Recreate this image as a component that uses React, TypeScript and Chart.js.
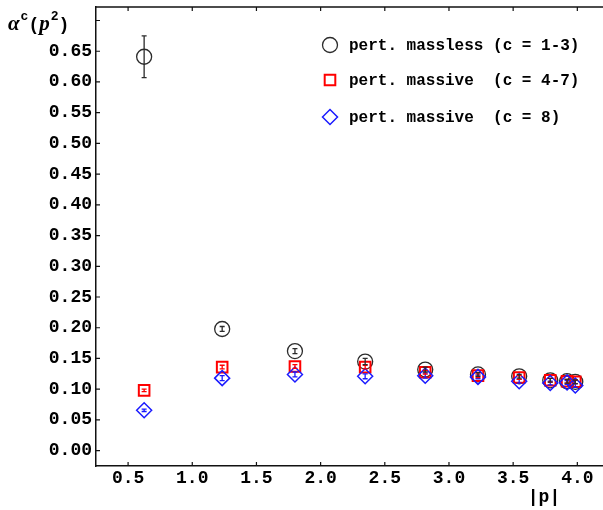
import React, { useEffect, useRef } from 'react';
import { Chart, registerables } from 'chart.js';
import { drawPoint } from 'chart.js/helpers';

Chart.register(...registerables);

// |p| values (lattice momenta)
const momenta = [0.625, 1.233, 1.8, 2.347, 2.815, 3.226, 3.547, 3.789, 3.92, 3.984];

// pert. massless (c = 1-3)
const masslessValues = [0.641, 0.198, 0.162, 0.145, 0.132, 0.124, 0.121, 0.1145, 0.113, 0.112];
const masslessErrors = [0.034, 0.004, 0.004, 0.005, 0.004, 0.003, 0.003, 0.003, 0.003, 0.003];

// pert. massive (c = 4-7)
const massive47Values = [0.098, 0.136, 0.137, 0.136, 0.1275, 0.122, 0.119, 0.1145, 0.113, 0.112];
const massive47Errors = [0.002, 0.003, 0.003, 0.003, 0.003, 0.003, 0.003, 0.003, 0.003, 0.003];

// pert. massive (c = 8)
const massive8Values = [0.0657, 0.118, 0.124, 0.121, 0.122, 0.12, 0.113, 0.11, 0.111, 0.106];
const massive8Errors = [0.002, 0.004, 0.004, 0.004, 0.004, 0.003, 0.003, 0.003, 0.003, 0.003];

const xTicks = [0.5, 1.0, 1.5, 2.0, 2.5, 3.0, 3.5, 4.0];
const yTicks = [0.0, 0.05, 0.1, 0.15, 0.2, 0.25, 0.3, 0.35, 0.4, 0.45, 0.5, 0.55, 0.6, 0.65, 0.7];
const yLabelMax = 0.65;

const legendLabels = [
  'pert. massless (c = 1-3)',
  'pert. massive  (c = 4-7)',
  'pert. massive  (c = 8)',
];

const MONO = "'Liberation Mono', 'Courier New', monospace";
const SERIF = "'Liberation Serif', 'DejaVu Serif', serif";

export default function App() {
  const ref = useRef<HTMLCanvasElement>(null);

  useEffect(() => {
    const canvas = ref.current!;
    const series = [
      { label: legendLabels[0], values: masslessValues, errors: masslessErrors, color: '#2b2b2b', style: 'circle', width: 1.3, order: 3 },
      { label: legendLabels[1], values: massive47Values, errors: massive47Errors, color: '#ff0000', style: 'rect', width: 2, order: 2 },
      { label: legendLabels[2], values: massive8Values, errors: massive8Errors, color: '#1a1aff', style: 'rectRot', width: 1.5, order: 1 },
    ];
    const RADIUS = 7.5;

    const errorBars = {
      id: 'errorBars',
      afterDatasetsDraw(chart: any) {
        const ctx = chart.ctx;
        const xs = chart.scales.x;
        const ys = chart.scales.y;
        ctx.save();
        [2, 1, 0].forEach((si) => {
          const s = series[si];
          ctx.strokeStyle = s.color;
          ctx.lineWidth = 1.3;
          momenta.forEach((m, i) => {
            const px = xs.getPixelForValue(m);
            const top = ys.getPixelForValue(s.values[i] + s.errors[i]);
            const bot = ys.getPixelForValue(s.values[i] - s.errors[i]);
            ctx.beginPath();
            ctx.moveTo(px, top);
            ctx.lineTo(px, bot);
            ctx.moveTo(px - 2.5, top);
            ctx.lineTo(px + 2.5, top);
            ctx.moveTo(px - 2.5, bot);
            ctx.lineTo(px + 2.5, bot);
            ctx.stroke();
          });
        });
        ctx.restore();
      },
    };

    const frame = {
      id: 'frame',
      afterDraw(chart: any) {
        const ctx = chart.ctx;
        const { left, right, top, bottom } = chart.chartArea;
        const xs = chart.scales.x;
        const ys = chart.scales.y;
        ctx.save();
        ctx.strokeStyle = '#111';
        ctx.lineWidth = 1.5;
        // top frame line
        ctx.beginPath();
        ctx.moveTo(left, top);
        ctx.lineTo(right, top);
        ctx.stroke();
        // inward ticks
        ctx.lineWidth = 1.2;
        ctx.beginPath();
        xTicks.forEach((t) => {
          const px = xs.getPixelForValue(t);
          ctx.moveTo(px, bottom);
          ctx.lineTo(px, bottom - 4);
          ctx.moveTo(px, top);
          ctx.lineTo(px, top + 4);
        });
        yTicks.forEach((t) => {
          const py = ys.getPixelForValue(t);
          ctx.moveTo(left, py);
          ctx.lineTo(left + 4, py);
        });
        ctx.stroke();

        // legend
        const lx = 330;
        const ly = [45, 80, 117];
        series.forEach((s, i) => {
          ctx.save();
          ctx.strokeStyle = s.color;
          ctx.fillStyle = 'transparent';
          ctx.lineWidth = s.width;
          drawPoint(ctx, { pointStyle: s.style, radius: RADIUS, borderWidth: s.width, rotation: 0 } as any, lx, ly[i]);
          ctx.restore();
          ctx.fillStyle = '#000';
          ctx.font = `bold 16px ${MONO}`;
          ctx.textAlign = 'left';
          ctx.textBaseline = 'middle';
          ctx.fillText(s.label, 349, ly[i] + 1);
        });

        // x title
        ctx.fillStyle = '#000';
        ctx.font = `bold 18px ${MONO}`;
        ctx.textAlign = 'center';
        ctx.textBaseline = 'middle';
        ctx.fillText('|p|', 544, 497);

        // y title: α^c(p^2)
        ctx.textAlign = 'left';
        ctx.textBaseline = 'alphabetic';
        let x = 8;
        const base = 30;
        ctx.font = `bold italic 21px ${SERIF}`;
        ctx.fillText('α', x, base);
        x += ctx.measureText('α').width + 1;
        ctx.font = `bold 13px ${MONO}`;
        ctx.fillText('c', x, base - 10);
        x += ctx.measureText('c').width;
        ctx.font = `bold 18px ${MONO}`;
        ctx.fillText('(', x, base);
        x += ctx.measureText('(').width;
        ctx.font = `bold italic 21px ${SERIF}`;
        ctx.fillText('p', x, base);
        x += ctx.measureText('p').width + 1;
        ctx.font = `bold 13px ${MONO}`;
        ctx.fillText('2', x, base - 10);
        x += ctx.measureText('2').width;
        ctx.font = `bold 18px ${MONO}`;
        ctx.fillText(')', x, base);
        ctx.restore();
      },
    };

    const chart = new Chart(canvas, {
      type: 'scatter',
      data: {
        datasets: series.map((s) => ({
          label: s.label,
          data: momenta.map((m, i) => ({ x: m, y: s.values[i] })),
          pointStyle: s.style as any,
          pointRadius: RADIUS,
          pointHoverRadius: RADIUS,
          pointBorderColor: s.color,
          pointBackgroundColor: 'rgba(0,0,0,0)',
          pointBorderWidth: s.width,
          showLine: false,
          order: s.order,
        })),
      },
      options: {
        responsive: false,
        animation: false,
        layout: { autoPadding: false, padding: { top: 7, left: 0, right: 0, bottom: 0 } },
        plugins: { legend: { display: false }, tooltip: { enabled: false } },
        scales: {
          x: {
            type: 'linear',
            min: 0.25,
            max: 4.2,
            afterBuildTicks: (scale: any) => {
              scale.ticks = xTicks.map((value) => ({ value }));
            },
            afterFit: (scale: any) => {
              scale.height = 44;
              scale.paddingLeft = 0;
              scale.paddingRight = 0;
              scale.paddingTop = 0;
              scale.paddingBottom = 0;
            },
            grid: { display: false, drawTicks: false },
            border: { display: true, color: '#111', width: 1.5 },
            ticks: {
              color: '#000',
              padding: 2,
              autoSkip: false,
              maxRotation: 0,
              font: { family: MONO, size: 18, weight: 'bold' },
              callback: (v: any) => Number(v).toFixed(1),
            },
          },
          y: {
            type: 'linear',
            min: -0.025,
            max: 0.722,
            afterBuildTicks: (scale: any) => {
              scale.ticks = yTicks.map((value) => ({ value }));
            },
            afterFit: (scale: any) => {
              scale.width = 96;
              scale.paddingLeft = 0;
              scale.paddingRight = 0;
              scale.paddingTop = 0;
              scale.paddingBottom = 0;
            },
            grid: { display: false, drawTicks: false },
            border: { display: true, color: '#111', width: 1.5 },
            ticks: {
              color: '#000',
              padding: 4,
              autoSkip: false,
              font: { family: MONO, size: 18, weight: 'bold' },
              callback: (v: any) => (Number(v) > yLabelMax + 0.001 ? '' : Number(v).toFixed(2)),
            },
          },
        },
      },
      plugins: [errorBars, frame],
    });
    return () => chart.destroy();
  }, []);

  return (
    <div style={{ position: 'fixed', left: 0, top: 0, width: 603, height: 510, background: '#fff' }}>
      <canvas ref={ref} width={603} height={510} style={{ display: 'block' }} />
    </div>
  );
}
